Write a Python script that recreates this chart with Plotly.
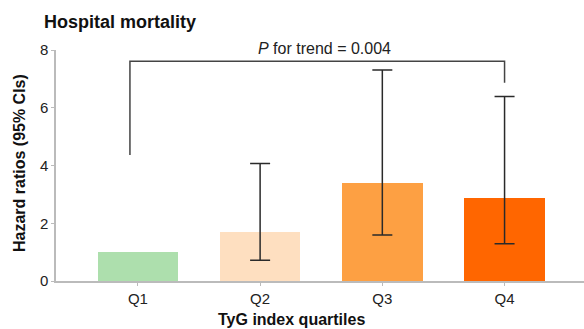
import plotly.graph_objects as go

# Hazard ratios of hospital mortality by TyG index quartile
quartiles = ["Q1", "Q2", "Q3", "Q4"]
hazard_ratio = [1.0, 1.70, 3.40, 2.87]
ci_lower = [1.0, 0.72, 1.59, 1.29]
ci_upper = [1.0, 4.07, 7.31, 6.39]
bar_colors = ["#ADDFAD", "#FEDFC0", "#FDA043", "#FF6600"]
y_ticks = [0, 2, 4, 6, 8]

# Trend bracket spanning Q1 to Q4
bracket_x = [-0.065, -0.065, 3, 3]
bracket_y = [4.36, 7.61, 7.61, 6.87]
trend_text = "<i>P</i> for trend = 0.004"

W, H = 584, 329
ML, MR, MT, MB = 56, 0, 50, 48
PW, PH = W - ML - MR, H - MT - MB


def px(x):
    return (x - ML) / PW


def py(y):
    return (H - MB - y) / PH


pos = list(range(len(quartiles)))
has_ci = [u > l for u, l in zip(ci_upper, ci_lower)]

font_family = "Liberation Sans, Arial, sans-serif"

fig = go.Figure()
fig.add_trace(go.Bar(
    x=pos, y=hazard_ratio, width=0.66,
    marker=dict(color=bar_colors, line=dict(width=0)),
    showlegend=False, hoverinfo="skip",
))
# Confidence interval whiskers (Q1 is the reference group)
fig.add_trace(go.Scatter(
    x=[p for p, c in zip(pos, has_ci) if c],
    y=[h for h, c in zip(hazard_ratio, has_ci) if c],
    mode="markers", marker=dict(size=0.1, color="rgba(0,0,0,0)"),
    error_y=dict(type="data", symmetric=False,
                 array=[u - h for u, h, c in zip(ci_upper, hazard_ratio, has_ci) if c],
                 arrayminus=[h - l for l, h, c in zip(ci_lower, hazard_ratio, has_ci) if c],
                 color="#2a2a2a", thickness=1.5, width=10),
    showlegend=False, hoverinfo="skip",
))
fig.add_trace(go.Scatter(
    x=bracket_x, y=bracket_y, mode="lines",
    line=dict(color="#444444", width=1.5),
    showlegend=False, hoverinfo="skip", cliponaxis=False,
))

fig.update_layout(
    width=W, height=H,
    margin=dict(l=ML, r=MR, t=MT, b=MB),
    paper_bgcolor="white", plot_bgcolor="white",
    font=dict(family=font_family, size=15, color="#222222"),
    bargap=0,
    xaxis=dict(
        range=[-0.67, 3.65], tickvals=pos, ticktext=quartiles,
        showgrid=False, zeroline=False, showline=True,
        linecolor="#BBBBBB", linewidth=1.5,
        ticks="outside", ticklen=3, tickcolor="#BBBBBB",
        tickfont=dict(size=15, color="#222222"),
    ),
    yaxis=dict(
        range=[0, 8], tickvals=y_ticks,
        showgrid=False, zeroline=False, showline=True,
        linecolor="#BBBBBB", linewidth=1.5,
        ticks="outside", ticklen=3, tickcolor="#BBBBBB",
        tickfont=dict(size=15, color="#222222"),
    ),
    annotations=[
        dict(text="<b>Hospital mortality</b>", xref="paper", yref="paper",
             x=px(42), y=py(22), xanchor="left", yanchor="middle",
             showarrow=False, font=dict(size=18, color="#111111")),
        dict(text=trend_text, xref="paper", yref="paper",
             x=px(324), y=py(48), xanchor="center", yanchor="middle",
             showarrow=False, font=dict(size=16, color="#222222")),
        dict(text="<b>TyG index quartiles</b>", xref="paper", yref="paper",
             x=px(291), y=py(319), xanchor="center", yanchor="middle",
             showarrow=False, font=dict(size=16, color="#111111")),
        dict(text="<b>Hazard ratios (95% CIs)</b>", xref="paper", yref="paper",
             x=px(19), y=py(163), xanchor="center", yanchor="middle",
             textangle=-90, showarrow=False, font=dict(size=16, color="#111111")),
    ],
)

fig.write_html("out.html")
